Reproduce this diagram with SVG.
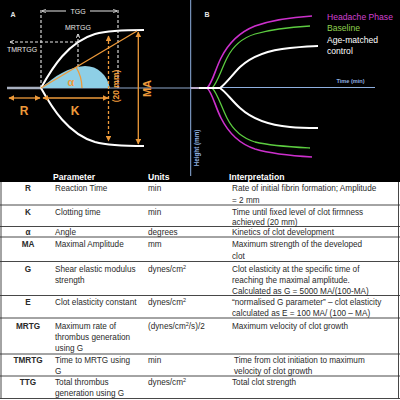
<svg xmlns="http://www.w3.org/2000/svg" width="400" height="400" viewBox="0 0 400 400">
<defs>
<marker id="ao" viewBox="0 0 10 10" refX="9" refY="5" markerWidth="4.6" markerHeight="4.6" orient="auto-start-reverse"><path d="M0,0 L10,5 L0,10 Z" fill="#ee9a3a"/></marker>
<marker id="aw" viewBox="0 0 10 10" refX="9" refY="5" markerWidth="4.5" markerHeight="4.5" orient="auto-start-reverse"><path d="M0,1 L10,5 L0,9" fill="none" stroke="#e8e8e8" stroke-width="1.6"/></marker>
</defs>
<style>
.or{stroke:#ee9a3a;stroke-width:1.3;fill:none}
.wd{stroke:#e8e8e8;stroke-width:1.1;fill:none;stroke-dasharray:3,2}
.wl{font-family:"Liberation Sans",Arial,sans-serif;font-size:7px;fill:#e6e6e6;text-anchor:middle}
.ol{font-family:"Liberation Sans",Arial,sans-serif;fill:#ee9a3a;font-weight:bold;text-anchor:middle}
.t{font-family:"Liberation Sans",Arial,sans-serif;font-size:8.2px;fill:#2a2a2a}
.b{font-weight:bold;text-anchor:middle}
.h{font-family:"Liberation Sans",Arial,sans-serif;font-size:8.6px;fill:#fff;font-weight:bold}
.lg{font-family:"Liberation Sans",Arial,sans-serif;font-size:8.6px}
.rl{stroke:#333;stroke-width:0.9}
</style>
<rect width="400" height="400" fill="#fff"/>
<rect x="0" y="0" width="400" height="182" fill="#000"/>

<g id="panelA">
<text x="13" y="17" class="wl" font-weight="bold" font-size="7.5">A</text>
<line x1="7" y1="88" x2="42" y2="88" stroke="#a8b0c0" stroke-width="2.5"/>
<line x1="42" y1="88" x2="191" y2="88" stroke="#8fa8cc" stroke-width="1"/>
<path d="M41,88 C55,76 68,67 85,66 C98,66 107,75 110,88 Z" fill="#8ecfe6"/>
<path d="M41,88 C52,68 68,42 95,34 C110,30 130,30 144,30" stroke="#fff" stroke-width="2" fill="none"/>
<path d="M41,88 C52,108 68,134 95,142 C110,146 130,146 144,146" stroke="#fff" stroke-width="2" fill="none"/>
<line x1="41" y1="10" x2="41" y2="88" class="wd"/>
<line x1="118" y1="10" x2="118" y2="88" class="wd"/>
<line x1="66" y1="11" x2="42" y2="11" stroke="#e8e8e8" stroke-width="1" marker-end="url(#aw)"/>
<line x1="90" y1="11" x2="117" y2="11" stroke="#e8e8e8" stroke-width="1" marker-end="url(#aw)"/>
<text x="78" y="13.5" class="wl">TGG</text>
<line x1="78" y1="67" x2="78" y2="34" class="wd" marker-end="url(#aw)"/>
<text x="78" y="29.5" class="wl">MRTGG</text>
<line x1="78" y1="42" x2="10" y2="42" class="wd" marker-end="url(#aw)"/>
<text x="22" y="51.5" class="wl">TMRTGG</text>
<line x1="41" y1="88" x2="137" y2="31" class="or"/>
<path d="M76,67 A41,41 0 0 1 82,88" class="or"/>
<text x="71" y="86" class="ol" font-size="11">α</text>
<line x1="9" y1="98" x2="40" y2="98" class="or" marker-start="url(#ao)" marker-end="url(#ao)"/>
<line x1="43" y1="98" x2="108" y2="98" class="or" marker-start="url(#ao)" marker-end="url(#ao)"/>
<text x="24" y="115" class="ol" font-size="12">R</text>
<text x="75" y="115" class="ol" font-size="12">K</text>
<line x1="108.5" y1="36" x2="108.5" y2="141" class="or" stroke-dasharray="3,2" marker-start="url(#ao)" marker-end="url(#ao)"/>
<text transform="translate(119,86) rotate(-90)" class="ol" font-size="8.5" font-weight="normal">(20 mm)</text>
<line x1="138.3" y1="32" x2="138.3" y2="144" class="or" marker-start="url(#ao)" marker-end="url(#ao)"/>
<text transform="translate(151,88.5) rotate(-90)" class="ol" font-size="11">MA</text>
</g>

<g id="panelB">
<line x1="190.7" y1="0" x2="190.7" y2="176" stroke="#8fb0e0" stroke-width="1"/>
<line x1="190" y1="87.5" x2="375" y2="87.5" stroke="#8fb0e0" stroke-width="1"/>
<text transform="translate(199,148) rotate(-90)" font-family="Liberation Sans,Arial,sans-serif" font-size="6.3" font-weight="bold" fill="#8fb0e0" text-anchor="middle">Height (mm)</text>
<text x="350.5" y="83" font-family="Liberation Sans,Arial,sans-serif" font-size="5.6" font-weight="bold" fill="#8fb0e0" text-anchor="middle">Time (min)</text>
<text x="207" y="17" class="wl" font-weight="bold" font-size="7.5">B</text>
<line x1="191" y1="88" x2="221" y2="88" stroke="#b8a8c8" stroke-width="2"/>
<path d="M199,88 L207,88 C212,84 215,70 221,58 C228,44 240,32 255,26 C272,20 295,17 312,16" stroke="#cc30cc" stroke-width="1.6" fill="none"/>
<path d="M207,88 C212,92 215,106 221,118 C228,132 240,144 255,149 C272,154 295,156 312,157" stroke="#cc30cc" stroke-width="1.6" fill="none"/>
<path d="M199,88 L212,88 C217,84 221,70 227,58 C233,46 242,38 255,34 C272,29 292,27 310,26" stroke="#5ccc40" stroke-width="1.3" fill="none"/>
<path d="M212,88 C217,92 221,106 227,118 C233,130 242,138 255,142 C272,146 292,147 310,148" stroke="#5ccc40" stroke-width="1.3" fill="none"/>
<path d="M199,88 L220,88 C226,84 232,75 240,67 C252,56 268,50 290,48 C300,47 310,46 318,46" stroke="#fff" stroke-width="2" fill="none"/>
<path d="M220,88 C226,92 232,101 240,108 C252,119 268,125 290,127 C300,128 310,128 318,128" stroke="#fff" stroke-width="2" fill="none"/>
<text x="327" y="19.5" class="lg" fill="#d040d0">Headache Phase</text>
<text x="327" y="31" class="lg" fill="#8fd14f">Baseline</text>
<text x="327" y="42.5" class="lg" fill="#fff">Age-matched</text>
<text x="327" y="54" class="lg" fill="#fff">control</text>
</g>

<g id="table">
<text x="53" y="180" class="h">Parameter</text>
<text x="148" y="180" class="h">Units</text>
<text x="229" y="180" class="h">Interpretation</text>
<line x1="1" y1="182" x2="1" y2="398.5" class="rl"/>
<line x1="398.5" y1="182" x2="398.5" y2="398.5" class="rl"/>
<line x1="0" y1="205" x2="400" y2="205" class="rl"/>
<line x1="0" y1="226.5" x2="400" y2="226.5" class="rl"/>
<line x1="0" y1="237" x2="400" y2="237" class="rl"/>
<line x1="0" y1="261.5" x2="400" y2="261.5" class="rl"/>
<line x1="0" y1="295.5" x2="400" y2="295.5" class="rl"/>
<line x1="0" y1="318" x2="400" y2="318" class="rl"/>
<line x1="0" y1="354" x2="400" y2="354" class="rl"/>
<line x1="0" y1="376" x2="400" y2="376" class="rl"/>
<line x1="0" y1="398.5" x2="400" y2="398.5" class="rl"/>

<g class="t">
<text x="28" y="191" class="b">R</text>
<text x="55" y="191">Reaction Time</text>
<text x="148" y="191">min</text>
<text x="232" y="191">Rate of initial fibrin formation; Amplitude</text>
<text x="232" y="202.5">= 2 mm</text>

<text x="28" y="215" class="b">K</text>
<text x="55" y="215">Clotting time</text>
<text x="148" y="215">min</text>
<text x="232" y="215">Time until fixed level of clot firmness</text>
<text x="232" y="224.5">achieved (20 mm)</text>

<text x="28" y="235" class="b">α</text>
<text x="55" y="235">Angle</text>
<text x="148" y="235">degrees</text>
<text x="232" y="235">Kinetics of clot development</text>

<text x="28" y="246.5" class="b">MA</text>
<text x="55" y="246.5">Maximal Amplitude</text>
<text x="148" y="246.5">mm</text>
<text x="232" y="246.5">Maximum strength of the developed</text>
<text x="232" y="258.5">clot</text>

<text x="28" y="272" class="b">G</text>
<text x="55" y="272">Shear elastic modulus</text>
<text x="55" y="283">strength</text>
<text x="148" y="272">dynes/cm<tspan font-size="5.5" dy="-3">2</tspan></text>
<text x="232" y="272">Clot elasticity at the specific time of</text>
<text x="232" y="283">reaching the maximal amplitude.</text>
<text x="232" y="294">Calculated as G = 5000 MA/(100-MA)</text>

<text x="28" y="305" class="b">E</text>
<text x="55" y="305">Clot elasticity constant</text>
<text x="148" y="305">dynes/cm<tspan font-size="5.5" dy="-3">2</tspan></text>
<text x="232" y="305">“normalised G parameter” – clot elasticity</text>
<text x="232" y="316">calculated as E = 100 MA/ (100 – MA)</text>

<text x="28" y="329" class="b">MRTG</text>
<text x="55" y="329">Maximum rate of</text>
<text x="55" y="340">thrombus generation</text>
<text x="55" y="351">using G</text>
<text x="148" y="329">(dynes/cm<tspan font-size="5.5" dy="-3">2</tspan><tspan dy="3">/s)/2</tspan></text>
<text x="232" y="329">Maximum velocity of clot growth</text>

<text x="28" y="362.5" class="b">TMRTG</text>
<text x="55" y="362.5">Time to MRTG using</text>
<text x="55" y="373.5">G</text>
<text x="148" y="362.5">min</text>
<text x="234" y="362.5">Time from clot initiation to maximum</text>
<text x="234" y="373.5">velocity of clot growth</text>

<text x="28" y="385" class="b">TTG</text>
<text x="55" y="385">Total thrombus</text>
<text x="55" y="396">generation using G</text>
<text x="148" y="385">dynes/cm<tspan font-size="5.5" dy="-3">2</tspan></text>
<text x="232" y="385">Total clot strength</text>
</g>
</g>
</svg>
